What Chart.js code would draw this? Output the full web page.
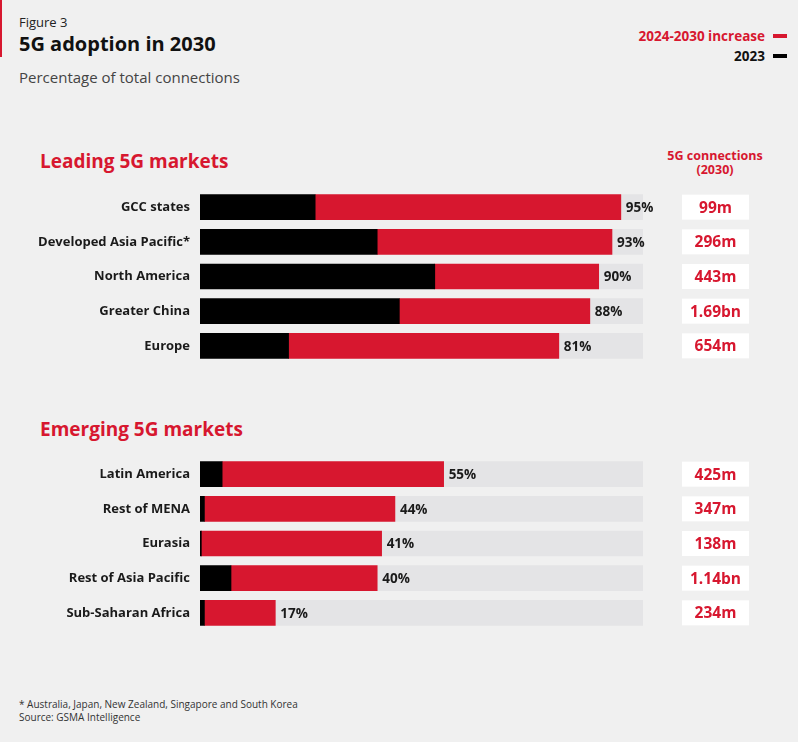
<!DOCTYPE html>
<html>
<head>
<meta charset="utf-8">
<script src="https://cdn.jsdelivr.net/npm/chart.js@4.4.1/dist/chart.umd.min.js"></script>
<style>
  html, body { margin: 0; padding: 0; }
  body {
    width: 798px; height: 742px; position: relative; overflow: hidden;
    background: #f0f0f0; font-family: 'Open Sans', sans-serif; color: #1a1a1a;
  }
  .abs { position: absolute; white-space: nowrap; }
  #redbar { left: 0; top: 0; width: 2px; height: 57px; background: #d7172f; }
  #fig { left: 19px; top: 13px; font-size: 13px; color: #222; }
  #title { left: 19px; top: 30px; font-size: 20px; font-weight: 700; color: #111; }
  #sub { left: 19px; top: 67px; font-size: 15px; color: #444; }
  .leg { right: 33px; font-size: 13.5px; font-weight: 700; }
  .legmark { width: 14px; height: 4px; right: 11px; }
  .section { left: 40px; font-size: 19px; font-weight: 700; color: #d7172f; }
  #conn { left: 660px; width: 110px; top: 149px; text-align: center; font-size: 12.5px; font-weight: 700; color: #d7172f; line-height: 14px; }
  .chartbox { position: absolute; left: 0; width: 798px; height: 209px; }
  #foot { left: 19px; top: 698px; font-size: 10px; color: #333; line-height: 13px; }
</style>
</head>
<body>
<div id="redbar" class="abs"></div>
<div id="fig" class="abs">Figure 3</div>
<div id="title" class="abs">5G adoption in 2030</div>
<div id="sub" class="abs">Percentage of total connections</div>
<div class="abs leg" style="top:27px;color:#d7172f;">2024-2030 increase</div>
<div class="abs legmark" style="top:34px;background:#d7172f;"></div>
<div class="abs leg" style="top:47px;color:#111;">2023</div>
<div class="abs legmark" style="top:54px;background:#000;"></div>
<div class="abs section" style="top:148px;">Leading 5G markets</div>
<div class="abs section" style="top:416px;">Emerging 5G markets</div>
<div id="conn" class="abs">5G connections<br>(2030)</div>
<div class="chartbox" style="top:172px;"><canvas id="leadingChart"></canvas></div>
<div class="chartbox" style="top:439px;"><canvas id="emergingChart"></canvas></div>
<div id="foot" class="abs">* Australia, Japan, New Zealand, Singapore and South Korea<br>Source: GSMA Intelligence</div>

<script>
// Leading 5G markets
const leadingMarkets = ['GCC states', 'Developed Asia Pacific*', 'North America', 'Greater China', 'Europe'];
const leading2023 = [26, 40, 53, 45, 20];
const leading2030 = [95, 93, 90, 88, 81];
const leadingConnections = ['99m', '296m', '443m', '1.69bn', '654m'];

// Emerging 5G markets
const emergingMarkets = ['Latin America', 'Rest of MENA', 'Eurasia', 'Rest of Asia Pacific', 'Sub-Saharan Africa'];
const emerging2023 = [5, 1, 0.3, 7, 1];
const emerging2030 = [55, 44, 41, 40, 17];
const emergingConnections = ['425m', '347m', '138m', '1.14bn', '234m'];

const colors = {
    red: '#d7172f',
    black: '#000000',
    track: '#e4e4e6',
    text: '#1a1a1a'
};

// draws the "95%" labels and the white connection boxes
const labelPlugin = {
    id: 'labels',
    afterDatasetsDraw(chart, args, opts) {
        const ctx = chart.ctx;
        const xScale = chart.scales.x;
        const yScale = chart.scales.y;
        ctx.save();
        opts.totals.forEach((total, i) => {
            const y = yScale.getPixelForValue(i);
            const x = xScale.getPixelForValue(total);
            ctx.font = "bold 13.5px 'Open Sans', sans-serif";
            ctx.fillStyle = colors.text;
            ctx.textAlign = 'left';
            ctx.textBaseline = 'middle';
            ctx.fillText(total + '%', x + 5, y + 1);

            ctx.fillStyle = '#ffffff';
            ctx.fillRect(682, y - 12.5, 67, 25);
            ctx.font = "bold 15.5px 'Open Sans', sans-serif";
            ctx.fillStyle = colors.red;
            ctx.textAlign = 'center';
            ctx.fillText(opts.connections[i], 715.5, y + 1);
        });
        ctx.restore();
    }
};

function makeChart(id, labels, base, total, connections) {
    const increase = total.map((t, i) => +(t - base[i]).toFixed(1));
    const rest = total.map(t => 100 - t);
    return new Chart(document.getElementById(id), {
        type: 'bar',
        data: {
            labels: labels,
            datasets: [
                { label: '2023', data: base, backgroundColor: colors.black },
                { label: '2024-2030 increase', data: increase, backgroundColor: colors.red },
                { label: 'rest', data: rest, backgroundColor: colors.track }
            ]
        },
        options: {
            indexAxis: 'y',
            responsive: true,
            maintainAspectRatio: false,
            animation: false,
            layout: { autoPadding: false, padding: { left: 0, right: 155, top: 0, bottom: 0 } },
            datasets: { bar: { barThickness: 25, borderWidth: 0, borderSkipped: false } },
            plugins: {
                legend: { display: false },
                tooltip: { enabled: false },
                labels: { totals: total, connections: connections }
            },
            scales: {
                x: { stacked: true, min: 0, max: 100, display: false },
                y: {
                    stacked: true,
                    grid: { display: false, drawTicks: false },
                    border: { display: false },
                    afterFit: (scale) => { scale.width = 200; },
                    ticks: {
                        color: colors.text,
                        padding: 10,
                        font: { family: "'Open Sans', sans-serif", size: 13, weight: 'bold' }
                    }
                }
            }
        },
        plugins: [labelPlugin]
    });
}

makeChart('leadingChart', leadingMarkets, leading2023, leading2030, leadingConnections);
makeChart('emergingChart', emergingMarkets, emerging2023, emerging2030, emergingConnections);
</script>
</body>
</html>
